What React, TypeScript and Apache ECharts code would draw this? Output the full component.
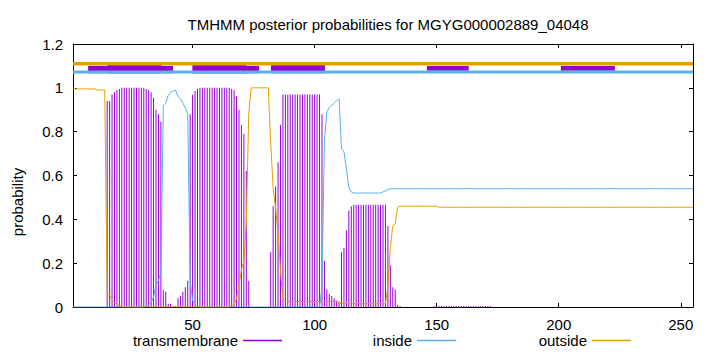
import React, { useEffect, useRef } from "react";
import * as echarts from "echarts";

const TITLE = "TMHMM posterior probabilities for MGYG000002889_04048";
const Y_NAME = "probability";
const X_MIN = 1;
const X_MAX = 255;
const X_TICKS = [50, 100, 150, 200, 250];
const LEGEND_NAMES = ["transmembrane", "inside", "outside"];

// posterior probability per residue (1..255)
const transmembrane = [
  0, 0, 0, 0, 0, 0, 0, 0, 0, 0,
  0, 0, 0, 0, 0.94, 0.94, 0.97, 0.98, 0.99, 0.995,
  1, 1, 1, 1, 1, 1, 1, 1, 1, 1,
  0.995, 0.99, 0.98, 0.955, 0.9, 0.88, 0.845, 0.078, 0.07, 0.015,
  0.015, 0.005, 0.005, 0.04, 0.05, 0.07, 0.09, 0.12, 0.88, 0.97,
  0.985, 0.995, 1, 1, 1, 1, 1, 1, 1, 1,
  1, 1, 1, 1, 1, 0.995, 0.99, 0.96, 0.9, 0.83,
  0.79, 0.62, 0.12, 0, 0, 0, 0, 0, 0, 0,
  0, 0.25, 0.46, 0.55, 0.66, 0.83, 0.97, 0.97, 0.97, 0.97,
  0.97, 0.97, 0.97, 0.97, 0.97, 0.97, 0.97, 0.97, 0.97, 0.97,
  0.97, 0.97, 0.88, 0.21, 0.08, 0.06, 0.05, 0.04, 0.03, 0.025,
  0.25, 0.27, 0.35, 0.44, 0.46, 0.466, 0.466, 0.466, 0.466, 0.466,
  0.466, 0.466, 0.466, 0.466, 0.466, 0.466, 0.466, 0.466, 0.466, 0.37,
  0.19, 0.09, 0.08, 0.01, 0.005, 0, 0, 0, 0, 0,
  0, 0, 0, 0, 0, 0, 0, 0, 0.005, 0.005,
  0.005, 0.005, 0.005, 0.005, 0.005, 0.005, 0.005, 0.005, 0.005, 0.005,
  0.005, 0.005, 0.005, 0.005, 0.005, 0.005, 0.005, 0.005, 0.005, 0.005,
  0.005, 0.005, 0, 0, 0, 0, 0, 0, 0, 0,
  0, 0, 0, 0, 0, 0, 0, 0, 0, 0,
  0, 0, 0, 0, 0, 0, 0, 0, 0, 0,
  0, 0, 0, 0, 0, 0, 0, 0, 0, 0,
  0, 0, 0, 0, 0, 0, 0, 0, 0, 0,
  0, 0, 0, 0, 0, 0, 0, 0, 0, 0,
  0, 0, 0, 0, 0, 0, 0, 0, 0, 0,
  0, 0, 0, 0, 0, 0, 0, 0, 0, 0,
  0, 0, 0, 0, 0,
];

const inside = [
  0, 0, 0, 0, 0, 0, 0, 0, 0, 0,
  0, 0, 0, 0, 0, 0, 0, 0, 0, 0,
  0, 0, 0, 0, 0, 0, 0, 0, 0, 0,
  0.005, 0.01, 0.02, 0.045, 0.1, 0.12, 0.155, 0.92, 0.93, 0.965,
  0.98, 0.985, 0.99, 0.96, 0.95, 0.93, 0.91, 0.88, 0.12, 0.03,
  0.01, 0.005, 0, 0, 0, 0, 0, 0, 0, 0,
  0, 0, 0, 0, 0, 0, 0, 0, 0, 0,
  0, 0, 0, 0, 0, 0, 0, 0, 0, 0,
  0, 0, 0, 0, 0, 0, 0, 0, 0, 0,
  0, 0, 0, 0, 0, 0, 0, 0, 0, 0,
  0, 0, 0.09, 0.76, 0.89, 0.91, 0.92, 0.93, 0.94, 0.95,
  0.72, 0.71, 0.63, 0.545, 0.525, 0.52, 0.52, 0.52, 0.52, 0.52,
  0.52, 0.52, 0.52, 0.52, 0.52, 0.52, 0.52, 0.525, 0.53, 0.535,
  0.54, 0.54, 0.54, 0.54, 0.54, 0.54, 0.54, 0.54, 0.54, 0.54,
  0.54, 0.54, 0.54, 0.54, 0.54, 0.54, 0.54, 0.54, 0.54, 0.54,
  0.54, 0.54, 0.54, 0.54, 0.54, 0.54, 0.54, 0.54, 0.54, 0.54,
  0.54, 0.54, 0.54, 0.54, 0.54, 0.54, 0.54, 0.54, 0.54, 0.54,
  0.54, 0.54, 0.54, 0.54, 0.54, 0.54, 0.54, 0.54, 0.54, 0.54,
  0.54, 0.54, 0.54, 0.54, 0.54, 0.54, 0.54, 0.54, 0.54, 0.54,
  0.54, 0.54, 0.54, 0.54, 0.54, 0.54, 0.54, 0.54, 0.54, 0.54,
  0.54, 0.54, 0.54, 0.54, 0.54, 0.54, 0.54, 0.54, 0.54, 0.54,
  0.54, 0.54, 0.54, 0.54, 0.54, 0.54, 0.54, 0.54, 0.54, 0.54,
  0.54, 0.54, 0.54, 0.54, 0.54, 0.54, 0.54, 0.54, 0.54, 0.54,
  0.54, 0.54, 0.54, 0.54, 0.54, 0.54, 0.54, 0.54, 0.54, 0.54,
  0.54, 0.54, 0.54, 0.54, 0.54, 0.54, 0.54, 0.54, 0.54, 0.54,
  0.54, 0.54, 0.54, 0.54, 0.54,
];

const outside = [
  1, 0.995, 0.995, 0.995, 0.995, 0.995, 0.995, 0.995, 0.995, 0.995,
  0.99, 0.99, 0.99, 0.99, 0.06, 0.055, 0.03, 0.02, 0.01, 0.005,
  0, 0, 0, 0, 0, 0, 0, 0, 0, 0,
  0, 0, 0, 0, 0, 0, 0, 0, 0, 0,
  0, 0, 0, 0, 0, 0, 0, 0, 0, 0,
  0, 0, 0, 0, 0, 0, 0, 0, 0, 0,
  0, 0, 0, 0, 0, 0.005, 0.01, 0.04, 0.1, 0.17,
  0.21, 0.38, 0.88, 1, 1, 1, 1, 1, 1, 1,
  1, 0.75, 0.54, 0.45, 0.34, 0.17, 0.03, 0.025, 0.025, 0.025,
  0.025, 0.025, 0.025, 0.025, 0.025, 0.025, 0.025, 0.025, 0.025, 0.025,
  0.025, 0.025, 0.025, 0.025, 0.025, 0.025, 0.025, 0.025, 0.025, 0.02,
  0.015, 0.015, 0.015, 0.015, 0.015, 0.015, 0.015, 0.015, 0.015, 0.015,
  0.015, 0.015, 0.015, 0.015, 0.015, 0.015, 0.015, 0.015, 0.015, 0.095,
  0.27, 0.37, 0.38, 0.455, 0.46, 0.46, 0.46, 0.46, 0.46, 0.46,
  0.46, 0.46, 0.46, 0.46, 0.46, 0.46, 0.46, 0.46, 0.46, 0.46,
  0.455, 0.455, 0.455, 0.455, 0.455, 0.455, 0.455, 0.455, 0.455, 0.455,
  0.455, 0.455, 0.455, 0.455, 0.455, 0.455, 0.455, 0.455, 0.455, 0.455,
  0.455, 0.455, 0.455, 0.455, 0.455, 0.455, 0.455, 0.455, 0.455, 0.455,
  0.455, 0.455, 0.455, 0.455, 0.455, 0.455, 0.455, 0.455, 0.455, 0.455,
  0.455, 0.455, 0.455, 0.455, 0.455, 0.455, 0.455, 0.455, 0.455, 0.455,
  0.455, 0.455, 0.455, 0.455, 0.455, 0.455, 0.455, 0.455, 0.455, 0.455,
  0.455, 0.455, 0.455, 0.455, 0.455, 0.455, 0.455, 0.455, 0.455, 0.455,
  0.455, 0.455, 0.455, 0.455, 0.455, 0.455, 0.455, 0.455, 0.455, 0.455,
  0.455, 0.455, 0.455, 0.455, 0.455, 0.455, 0.455, 0.455, 0.455, 0.455,
  0.455, 0.455, 0.455, 0.455, 0.455, 0.455, 0.455, 0.455, 0.455, 0.455,
  0.455, 0.455, 0.455, 0.455, 0.455,
];

// topology strip above the plot
const outsideStrip = [[1, 1.11], [255, 1.11]];
const insideStrip = [[1, 1.072], [255, 1.072]];
// helix boxes: [start, end, low, high]
const helixBoxes = [
  [7.2, 42, 1.067, 1.1],
  [15.1, 37.3, 1.067, 1.114],
  [50, 77.2, 1.067, 1.1],
  [50, 72.1, 1.067, 1.114],
  [82.1, 104.2, 1.067, 1.114],
  [146, 163.1, 1.078, 1.1],
  [200.9, 223, 1.078, 1.1],
];

const FONT = "Liberation Sans";
const PURPLE = "#9400d3";
const BLUE = "#56b4e9";
const ORANGE = "#e69f00";
const LEGEND_COLORS = [PURPLE, BLUE, ORANGE];

export default function App() {
  const ref = useRef<HTMLDivElement>(null);
  useEffect(() => {
    if (!ref.current) return;
    const chart = echarts.init(ref.current, null, { renderer: "svg" });
    const toPairs = (arr: number[]) => arr.map((v, i) => [i + 1, v]);
    const legendRights = [433, 259, 84];
    const legends = LEGEND_NAMES.map((name, k) => ({
      icon: "rect",
      itemWidth: 39,
      itemHeight: 1.5,
      align: "right",
      top: 328,
      right: legendRights[k],
      itemStyle: { color: LEGEND_COLORS[k], borderWidth: 0, opacity: 1 },
      data: [
        {
          name,
          icon: "rect",
          itemStyle: { color: LEGEND_COLORS[k], borderWidth: 0, opacity: 1 },
        },
      ],
      textStyle: { fontFamily: FONT, fontSize: 15, color: "#000" },
    }));
    chart.setOption({
      animation: false,
      color: LEGEND_COLORS,
      title: {
        text: TITLE,
        left: 383,
        textAlign: "center",
        top: 12,
        textStyle: { fontFamily: FONT, fontSize: 15, fontWeight: "normal", color: "#000" },
      },
      legend: legends,
      graphic: [
        {
          type: "text",
          x: 17,
          y: 202,
          rotation: Math.PI / 2,
          style: {
            text: Y_NAME,
            fontFamily: FONT,
            fontSize: 15,
            fill: "#000",
            align: "center",
            verticalAlign: "middle",
          },
        },
      ],
      grid: { left: 73, right: 27, top: 44, bottom: 45 },
      xAxis: [
        {
          type: "value",
          min: X_MIN,
          max: X_MAX,
          position: "bottom",
          axisLine: { show: true, lineStyle: { color: "#000", width: 1 } },
          axisTick: { show: true, inside: true, length: 4, customValues: X_TICKS, lineStyle: { color: "#000" } },
          axisLabel: {
            customValues: X_TICKS,
            fontFamily: FONT,
            fontSize: 15,
            color: "#000",
            margin: 10,
          },
          splitLine: { show: false },
        },
        {
          type: "value",
          min: X_MIN,
          max: X_MAX,
          position: "top",
          axisLine: { show: true, onZero: false, lineStyle: { color: "#000", width: 1 } },
          axisTick: { show: true, inside: true, length: 4, customValues: X_TICKS, lineStyle: { color: "#000" } },
          axisLabel: { show: false },
          splitLine: { show: false },
        },
      ],
      yAxis: [
        {
          type: "value",
          min: 0,
          max: 1.2,
          interval: 0.2,
          axisLine: { show: true, lineStyle: { color: "#000", width: 1 } },
          axisTick: { show: true, inside: true, length: 4, lineStyle: { color: "#000" } },
          axisLabel: {
            fontFamily: FONT,
            fontSize: 15,
            color: "#000",
            margin: 10,
            formatter: (v: number) => String(+v.toFixed(1)),
          },
          splitLine: { show: false },
        },
        {
          type: "value",
          min: 0,
          max: 1.2,
          interval: 0.2,
          position: "right",
          axisLine: { show: true, onZero: false, lineStyle: { color: "#000", width: 1 } },
          axisTick: { show: true, inside: true, length: 4, lineStyle: { color: "#000" } },
          axisLabel: { show: false },
          splitLine: { show: false },
        },
      ],
      series: [
        {
          name: LEGEND_NAMES[0],
          type: "bar",
          data: toPairs(transmembrane),
          barWidth: 1,
          itemStyle: { color: PURPLE },
        },
        {
          name: LEGEND_NAMES[1],
          type: "line",
          data: toPairs(inside),
          symbol: "none",
          color: BLUE,
          lineStyle: { color: BLUE, width: 1 },
          itemStyle: { color: BLUE },
        },
        {
          name: LEGEND_NAMES[2],
          type: "line",
          data: toPairs(outside),
          symbol: "none",
          color: ORANGE,
          lineStyle: { color: ORANGE, width: 1 },
          itemStyle: { color: ORANGE },
        },
        {
          name: "outsideStrip",
          type: "line",
          data: outsideStrip,
          symbol: "none",
          lineStyle: { color: ORANGE, width: 3.4 },
        },
        {
          name: "insideStrip",
          type: "line",
          data: insideStrip,
          symbol: "none",
          lineStyle: { color: BLUE, width: 3 },
        },
        {
          name: "helixBoxes",
          type: "custom",
          data: helixBoxes,
          encode: { x: [0, 1], y: [2, 3] },
          renderItem: (params: any, api: any) => {
            const p1 = api.coord([api.value(0), api.value(3)]);
            const p2 = api.coord([api.value(1), api.value(2)]);
            return {
              type: "rect",
              shape: { x: p1[0], y: p1[1], width: p2[0] - p1[0], height: p2[1] - p1[1] },
              style: { fill: PURPLE },
            };
          },
        },
      ],
    });
    return () => chart.dispose();
  }, []);
  return (
    <div
      ref={ref}
      style={{ position: "fixed", left: 0, top: 0, width: 720, height: 352, background: "#fff" }}
    />
  );
}
